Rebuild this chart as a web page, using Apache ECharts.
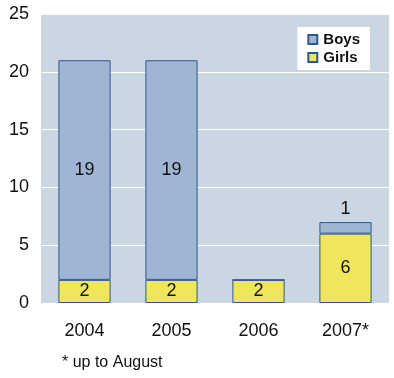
<!DOCTYPE html>
<html lang="en">
<head>
    <meta charset="UTF-8">
    <title>Boys and Girls</title>
    <script src="https://cdn.jsdelivr.net/npm/echarts@6/dist/echarts.min.js"></script>
    <style>
        html, body { margin: 0; padding: 0; background: #fff; }
        #main { width: 394px; height: 378px; }
    </style>
</head>
<body>
<div id="main"></div>
<script>
    var years = ['2004', '2005', '2006', '2007*'];
    var girls = [2, 2, 2, 6];
    var boys = [19, 19, 0, 1];
    var yTicks = [0, 5, 10, 15, 20, 25];

    var font = 'Arial, "Liberation Sans", sans-serif';

    var myChart = echarts.init(document.getElementById('main'));

    // small segments get their label above the bar
    var boysData = boys.map(function (v) {
        var item = { value: v };
        if (v === 0) item.label = { show: false };
        else if (v < 3) item.label = { position: 'top', distance: 4 };
        return item;
    });

    var option = {
        animation: false,
        textStyle: { fontFamily: font },
        grid: {
            left: 41, right: 5, top: 14, bottom: 75,
            show: true, backgroundColor: '#cbd6e3', borderWidth: 0
        },
        legend: {
            data: ['Boys', 'Girls'],
            orient: 'vertical',
            right: 24, top: 27,
            backgroundColor: '#ffffff',
            padding: [5, 10, 5, 10],
            itemGap: 3,
            itemWidth: 9, itemHeight: 9,
            icon: 'rect',
            textStyle: { fontSize: 15, fontWeight: 'bold', color: '#111', fontFamily: font, padding: [0, 0, 0, 1] }
        },
        xAxis: {
            type: 'category',
            data: years,
            axisLine: { show: false },
            axisTick: { show: false },
            axisLabel: { fontSize: 18, color: '#111', margin: 19 }
        },
        yAxis: {
            type: 'value',
            min: yTicks[0], max: yTicks[yTicks.length - 1], interval: 5,
            axisLine: { show: false },
            axisTick: { show: false },
            axisLabel: { fontSize: 18, color: '#111', margin: 12 },
            splitLine: { lineStyle: { color: '#ffffff', width: 1 } }
        },
        series: [{
            name: 'Girls',
            type: 'bar',
            stack: 'all',
            barWidth: '60%',
            data: girls,
            itemStyle: { color: '#f0e65c', borderColor: '#2d5a8c', borderWidth: 1 },
            label: { show: true, position: 'inside', fontSize: 18, color: '#111' }
        }, {
            name: 'Boys',
            type: 'bar',
            stack: 'all',
            barWidth: '60%',
            data: boysData,
            itemStyle: { color: '#a0b5d3', borderColor: '#2d5a8c', borderWidth: 1 },
            label: { show: true, position: 'inside', fontSize: 18, color: '#111' }
        }],
        graphic: [{
            type: 'text',
            left: 62, top: 355,
            style: { text: '* up to August', fontSize: 16, fill: '#111', fontFamily: font }
        }]
    };

    myChart.setOption(option);
</script>
</body>
</html>
